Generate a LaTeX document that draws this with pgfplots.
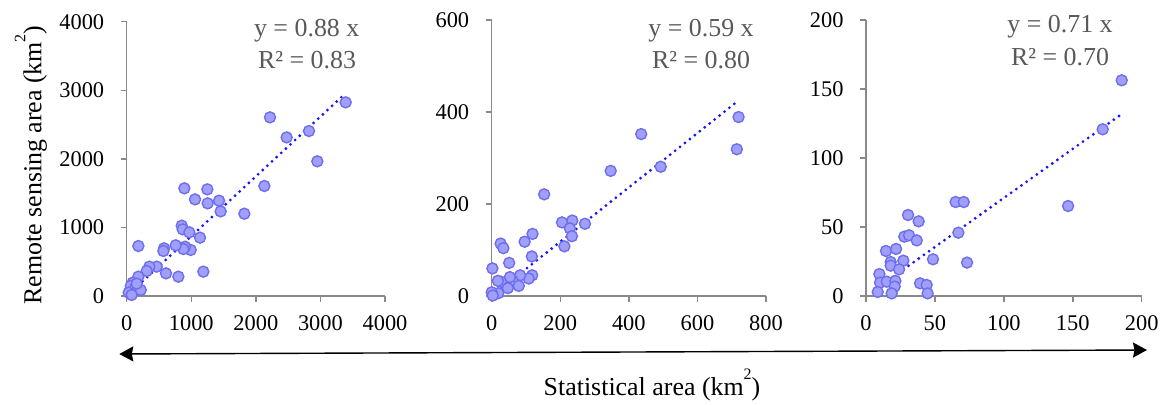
\documentclass[border=0pt]{standalone}
\usepackage{fontspec}
\setmainfont{Liberation Serif}
\newfontfamily\tnr{Liberation Serif}
\usepackage{pgfplots}
\pgfplotsset{compat=1.18}
\usetikzlibrary{arrows.meta}
\definecolor{AxisGray}{HTML}{898989}
\definecolor{NoteGray}{HTML}{595959}
\definecolor{Dot}{HTML}{A0A0FC}
\definecolor{DotEdge}{HTML}{6E6EEC}
\definecolor{Trend}{HTML}{1212FF}

\newcommand{\tl}[1]{\mbox{\tnr\fontsize{22.5}{24}\selectfont #1}}
\pgfplotsset{
  panel/.style={
    scale only axis,
    anchor=south west,
    clip=false,
    axis x line*=bottom,
    axis y line*=left,
    x axis line style={-},
    y axis line style={-},
    axis line style={draw=AxisGray,line width=1.5bp},
    tick style={draw=AxisGray,line width=1.5bp},
    tick align=outside,
    major tick length=6bp,
    tick label style={font=\tnr\fontsize{22.5}{24}\selectfont,color=black},
    xticklabel={\tl{\pgfmathprintnumber[assume math mode=true,set thousands separator={}]{\tick}}},
    yticklabel={\tl{\pgfmathprintnumber[assume math mode=true,set thousands separator={}]{\tick}}},
    scaled ticks=false,
    xticklabel style={yshift=-10bp},
    yticklabel style={xshift=-13bp},
  },
  pts/.style={only marks,mark=*,mark size=5.5bp,
    mark options={fill=Dot,draw=DotEdge,line width=1.4bp}},
  trend/.style={draw=Trend,line width=3.1bp,line cap=round,
    dash pattern=on 0pt off 6.3bp},
}
\newcommand{\sq}{\raisebox{0.62em}{\fontsize{16}{16}\selectfont 2}}

\begin{document}
\begin{tikzpicture}
  \useasboundingbox (0,0) rectangle (1168bp,405bp);

  % panel 1
  \begin{axis}[panel,at={(126.7bp,109bp)},width=258.3bp,height=274.3bp,
      xmin=0,xmax=4000,ymin=0,ymax=4000,
      xtick={0,1000,2000,3000,4000},
      ytick={0,1000,2000,3000,4000}]
    \addplot[pts] coordinates {
      (3391,2824)(2219,2605)(2477,2313)(2823,2406)(2952,1964)(2132,1604)
      (1822,1200)(893,1570)(1058,1409)(1249,1555)(1254,1351)(1430,1390)
      (1455,1234)(852,1025)(867,972)(970,928)(1135,851)(991,671)(903,719)
      (877,685)(759,739)(578,695)(568,656)(181,729)(1187,355)(800,282)
      (609,330)(465,428)(351,428)(310,365)(181,282)(93,194)(62,146)
      (129,112)(217,87)(31,49)(77,15)(155,180)};
    \addplot[trend] coordinates {(31,27)(3360,2930)};
  \end{axis}

  % panel 2
  \begin{axis}[panel,at={(491.7bp,109bp)},width=274.3bp,height=276bp,
      xmin=0,xmax=800,ymin=0,ymax=600,
      xtick={0,200,400,600,800},
      ytick={0,200,400,600}]
    \addplot[pts] coordinates {
      (720,389)(715,319)(436,352)(493,281)(347,272)(153,221)(235,164)
      (205,160)(228,147)(234,130)(272,157)(212,108)(119,135)(96,118)
      (26,114)(34,104)(117,86)(51,72)(2,60)(118,45)(108,38)(83,45)
      (61,33)(53,41)(27,31)(18,33)(79,22)(47,17)(19,6)(0,8)(3,1)};
    \addplot[trend] coordinates {(2,1)(720,425)};
  \end{axis}

  % panel 3
  \begin{axis}[panel,at={(866bp,109bp)},width=275.7bp,height=276bp,
      xmin=0,xmax=200,ymin=0,ymax=200,
      xtick={0,50,100,150,200},
      ytick={0,50,100,150,200}]
    \addplot[pts] coordinates {
      (185.5,156.3)(171.7,120.8)(146.6,65.2)(65,68.1)(70.9,68.1)(67,45.9)
      (73.3,24.2)(30.5,58.7)(38.2,54.1)(27.8,43)(31.2,44)(36.8,40.3)
      (14.5,32.6)(21.8,34.1)(17.9,24.6)(17.9,22)(27.1,25.6)(24,19.3)
      (48.6,26.6)(9.7,15.9)(10.2,9.7)(15,10.4)(21.3,10.9)(20.8,6.8)
      (8.5,2.9)(18.6,1.9)(39.2,9.2)(44,8)(44.7,1.9)};
    \addplot[trend] coordinates {(8.5,6)(185,131.5)};
  \end{axis}

  % equations
  \begin{scope}[every node/.style={font=\fontsize{26}{28}\selectfont,text=NoteGray,inner sep=0pt}]
    \node at (306.7bp,374.3bp) {y = 0.88 x};
    \node at (307bp,345bp) {R² = 0.83};
    \node at (701bp,374.3bp) {y = 0.59 x};
    \node at (701bp,345bp) {R² = 0.80};
    \node at (1060bp,378.3bp) {y = 0.71 x};
    \node at (1060bp,348.3bp) {R² = 0.70};
  \end{scope}

  % axis titles and arrow
  \node[rotate=90,font=\fontsize{26}{28}\selectfont,inner sep=0pt]
    at (30.8bp,240bp) {Remote sensing area (km\sq)};
  \draw[line width=1.4bp,{Stealth[length=14bp,width=15bp,inset=1.5bp]}-{Stealth[length=14bp,width=15bp,inset=1.5bp]}]
    (119.3bp,51bp) -- (1147bp,55bp);
  \node[font=\fontsize{26}{28}\selectfont,inner sep=0pt]
    at (652bp,20bp) {Statistical area (km\sq)};
\end{tikzpicture}
\end{document}
